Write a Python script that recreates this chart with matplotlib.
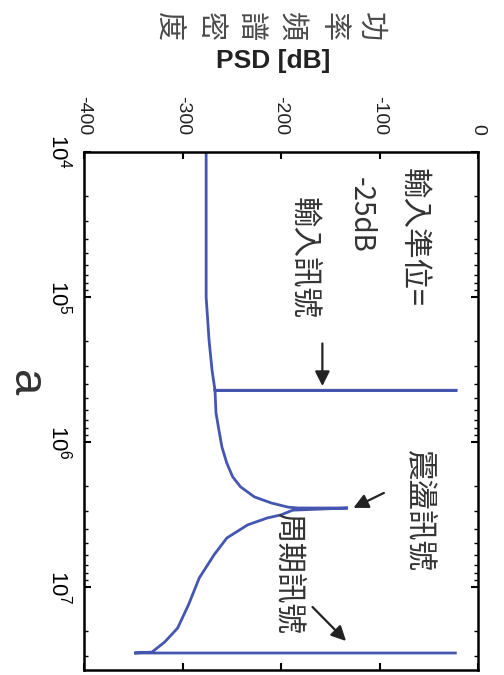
import matplotlib
matplotlib.use("Agg")
import matplotlib.pyplot as plt

plt.rcParams['font.family'] = ['Liberation Sans', 'Noto Sans CJK TC', 'DejaVu Sans']
plt.rcParams['mathtext.default'] = 'regular'

# frequency [Hz] and PSD [dB] of the simulated spectrum (spikes = repeated freq)
freq = [1e4, 1e5, 2e5, 3.2e5, 4.4e5, 4.4e5, 4.4e5, 6.3e5, 8.3e5, 1.08e6,
        1.4e6, 1.74e6, 2.04e6, 2.39e6, 2.63e6, 2.81e6, 2.85e6, 2.85e6,
        2.95e6, 3.18e6, 3.34e6, 3.73e6, 4.59e6, 6.0e6, 8.66e6, 1.33e7,
        1.92e7, 2.39e7, 2.81e7, 2.85e7, 2.85e7]
psd = [-276, -276, -273, -270, -267, -21, -267, -266, -263, -260,
       -255, -249, -241, -227, -210, -193, -183, -132,
       -188, -200, -214, -234, -255, -268, -283, -294,
       -305, -318, -331, -349, -23]

psd_ticks = [-400, -300, -200, -100, 0]
freq_ticks = [1e4, 1e5, 1e6, 1e7]
freq_labels = [r'$10^4$', r'$10^5$', r'$10^6$', r'$10^7$']

ylabel_zh = "功率頻譜密度"
blue = '#4556b0'
txt = '#333333'
cjk = ['Noto Sans CJK TC', 'DejaVu Sans']

fig = plt.figure(figsize=(5.04, 6.75), dpi=100)
ax = fig.add_axes([84 / 504, 1 - 670 / 675, 394 / 504, 518 / 675])

ax.plot(psd, freq, color=blue, lw=2.0, solid_joinstyle='miter')

ax.set_yscale('log')
ax.set_xlim(-400, 0)
ax.set_ylim(10 ** 7.572, 1e4)

ax.set_xticks(psd_ticks, [str(t) for t in psd_ticks])
ax.set_yticks(freq_ticks, freq_labels)
ax.tick_params(axis='x', which='both', top=True, bottom=True, labeltop=True,
               labelbottom=False, direction='in', length=5, width=1.5,
               labelsize=14, labelrotation=-90, pad=12)
ax.tick_params(axis='y', which='major', left=True, right=True, direction='in',
               length=5, width=1.5, labelsize=16, labelrotation=-90, pad=8)
ax.tick_params(axis='y', which='minor', left=True, right=True, direction='in',
               length=3, width=1.0)
plt.setp(ax.get_yticklabels(), va='center')
plt.setp(ax.get_xticklabels(), color='#222222')
for s in ax.spines.values():
    s.set_linewidth(1.8)

# annotations
ax.text(-66, 1.29e4, "輸入準位=", rotation=-90, ha='center', va='top',
        fontsize=22, color=txt, family=cjk)
ax.text(-119, 1.49e4, "-25dB", rotation=-90, ha='center', va='top',
        fontsize=20, color=txt, family=cjk)
ax.text(-178, 2.04e4, "輸入訊號", rotation=-90, ha='center', va='top',
        fontsize=22, color=txt, family=cjk)
ax.text(-61, 1.14e6, "震盪訊號", rotation=-90, ha='center', va='top',
        fontsize=22, color=txt, family=cjk)
ax.text(-194, 3.1e6, "周期訊號", rotation=-90, ha='center', va='top',
        fontsize=22, color=txt, family=cjk)

arw = dict(arrowstyle='-|>', color='#222222', lw=1.6, mutation_scale=22)
ax.annotate('', xy=(-158, 4.3e5), xytext=(-158, 2e5), arrowprops=arw)
ax.annotate('', xy=(-129, 2.9e6), xytext=(-93, 2.2e6), arrowprops=arw)
ax.annotate('', xy=(-132, 2.43e7), xytext=(-170, 1.33e7), arrowprops=arw)

# axis titles (rotated layout)
fig.text(273 / 504, 1 - 61 / 675, "PSD [dB]", ha='center', va='center',
         fontsize=19, fontweight='bold', color='#222222')
xs = [370, 333, 290, 250, 210, 168]
for ch, x in zip(ylabel_zh, xs):
    fig.text(x / 504, 1 - 27 / 675, ch, rotation=-90, ha='center', va='center',
             fontsize=21, color='#4a4a4a', family=cjk)

fig.text(25 / 504, 1 - 383 / 675, "a", rotation=-90, ha='center', va='center',
         fontsize=34, color=txt)

fig.savefig("out.png", dpi=100)
